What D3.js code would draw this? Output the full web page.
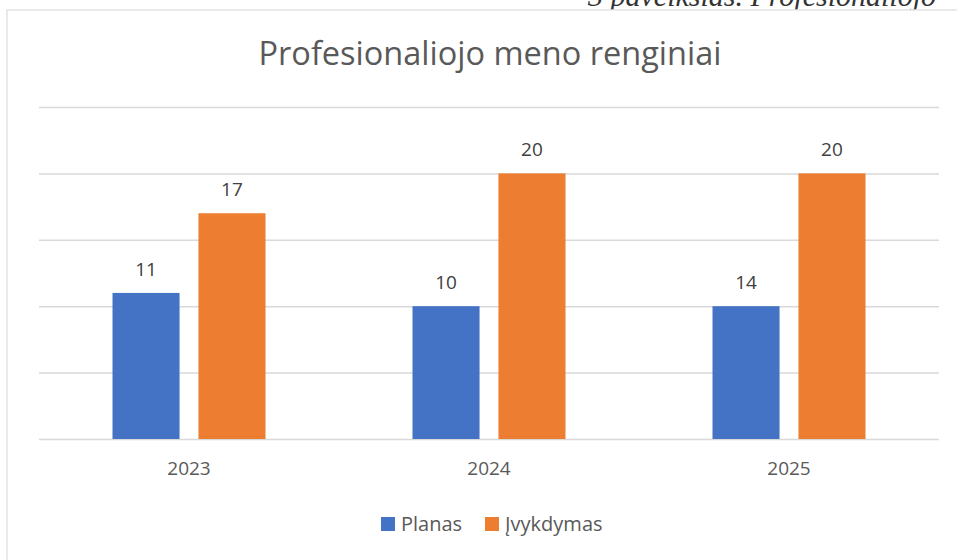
<!DOCTYPE html>
<html>
<head>
<meta charset="utf-8">
<script src="https://cdn.jsdelivr.net/npm/d3@7"></script>
<style>
  html, body { margin: 0; padding: 0; background: #fff; }
  svg { display: block; }
  text { font-family: "Open Sans", "Noto Sans", sans-serif; fill: #595959; }
</style>
</head>
<body>
<svg id="chart" width="957" height="560"></svg>
<script>
// chart data
const years = ["2023", "2024", "2025"];
const seriesNames = ["Planas", "Įvykdymas"];
const planas = [11, 10, 10];        // bar heights as drawn
const planasLabels = ["11", "10", "14"]; // labels as printed
const ivykdymas = [17, 20, 20];
const ivykdymasLabels = ["17", "20", "20"];
const yTicks = [0, 5, 10, 15, 20, 25];

const colors = ["#4472C4", "#ED7D31"];

var svg = d3.select("#chart"),
    W = 957, H = 560,
    margin = {left: 39, right: 18, top: 107, bottom: 121};

// caption of the page, mostly hidden behind the chart frame
svg.append("text")
    .attr("x", 588)
    .attr("y", 6)
    .style("font-family", "'Liberation Serif', serif")
    .style("font-style", "italic")
    .style("font-size", "30px")
    .style("fill", "#333")
    .text("3 paveikslas. Profesionaliojo");

// chart frame
svg.append("rect")
    .attr("x", 8).attr("y", 11)
    .attr("width", W).attr("height", H)
    .attr("fill", "none")
    .attr("stroke", "#ececec")
    .attr("stroke-width", 3);
svg.append("rect")
    .attr("x", 7).attr("y", 10)
    .attr("width", W).attr("height", H)
    .attr("fill", "#fff")
    .attr("stroke", "#d9d9d9")
    .attr("stroke-width", 1);

var x0 = d3.scaleBand()
    .domain(years)
    .range([margin.left, W - margin.right]);

var x1 = d3.scaleBand()
    .domain(seriesNames)
    .range([0, 153])
    .paddingInner(0.22);

var y = d3.scaleLinear()
    .domain([0, 25])
    .range([H - margin.bottom, margin.top]);

// gridlines
var yAxis = d3.axisLeft(y)
    .tickValues(yTicks)
    .tickSize(-(W - margin.right - margin.left))
    .tickFormat("");

svg.append("g")
    .attr("class", "grid")
    .attr("transform", "translate(" + margin.left + ",0)")
    .call(yAxis)
    .call(function(g) {
      g.select(".domain").remove();
      g.selectAll("line").attr("stroke", "#d9d9d9").attr("stroke-width", 1.5);
    });

var rows = years.map(function(yr, i) {
  return {
    year: yr,
    bars: [
      {name: seriesNames[0], value: planas[i], label: planasLabels[i]},
      {name: seriesNames[1], value: ivykdymas[i], label: ivykdymasLabels[i]}
    ]
  };
});

var group = svg.selectAll("g.year")
    .data(rows)
  .enter().append("g")
    .attr("class", "year")
    .attr("transform", function(d) {
      return "translate(" + (x0(d.year) + x0.bandwidth() / 2 - 76.5) + ",0)";
    });

group.selectAll("rect")
    .data(function(d) { return d.bars; })
  .enter().append("rect")
    .attr("x", function(d) { return x1(d.name); })
    .attr("y", function(d) { return y(d.value); })
    .attr("width", x1.bandwidth())
    .attr("height", function(d) { return y(0) - y(d.value); })
    .attr("fill", function(d, i) { return colors[i]; });

group.selectAll("text.label")
    .data(function(d) { return d.bars; })
  .enter().append("text")
    .attr("class", "label")
    .attr("x", function(d) { return x1(d.name) + x1.bandwidth() / 2; })
    .attr("y", function(d) { return y(d.value) - 17; })
    .attr("text-anchor", "middle")
    .style("font-size", "19px")
    .style("fill", "#404040")
    .text(function(d) { return d.label; });

// x axis labels
var xAxis = d3.axisBottom(x0).tickSize(0).tickPadding(23);
svg.append("g")
    .attr("transform", "translate(0," + y(0) + ")")
    .call(xAxis)
    .call(function(g) {
      g.select(".domain").remove();
      g.selectAll("text")
          .style("font-size", "19px")
          .style("font-family", "'Open Sans', sans-serif")
          .attr("fill", "#595959");
    });

// title
svg.append("text")
    .attr("x", 490)
    .attr("y", 65)
    .attr("text-anchor", "middle")
    .style("font-size", "32.5px")
    .text("Profesionaliojo meno renginiai");

// legend
var legendX = [381, 485];
var legend = svg.selectAll("g.legend")
    .data(seriesNames)
  .enter().append("g")
    .attr("class", "legend")
    .attr("transform", function(d, i) { return "translate(" + legendX[i] + ",517)"; });

legend.append("rect")
    .attr("width", 14)
    .attr("height", 14)
    .attr("fill", function(d, i) { return colors[i]; });

legend.append("text")
    .attr("x", 20)
    .attr("y", 14)
    .style("font-size", "20px")
    .text(function(d) { return d; });
</script>
</body>
</html>
